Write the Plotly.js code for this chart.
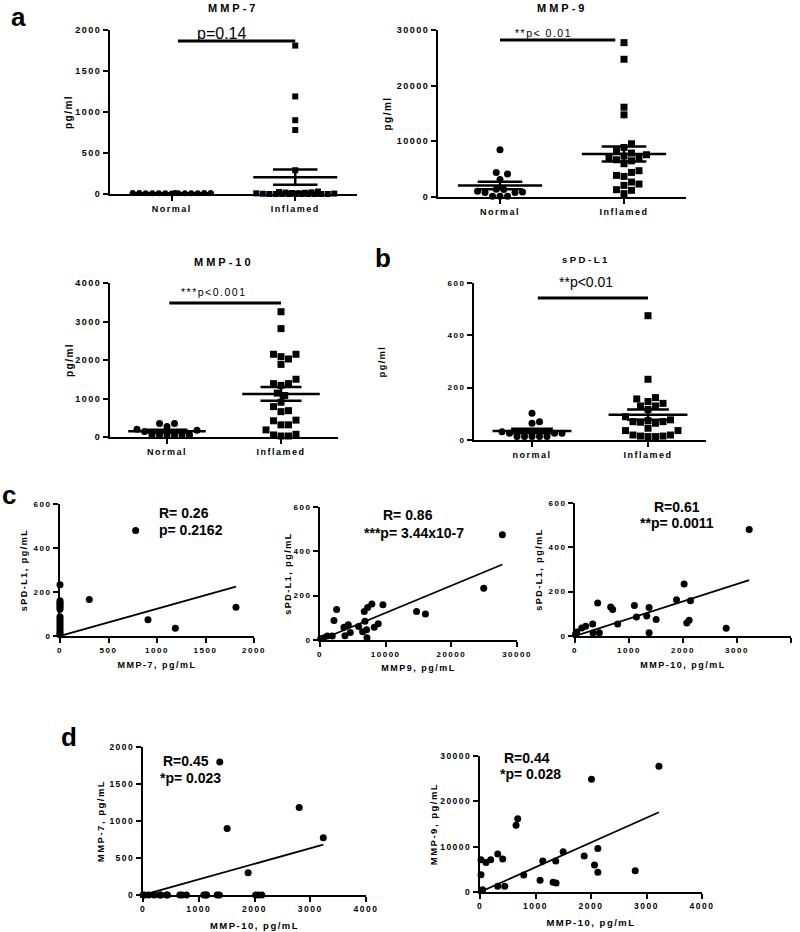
<!DOCTYPE html>
<html>
<head>
<meta charset="utf-8">
<script src="https://cdn.plot.ly/plotly-3.0.1.min.js"></script>
<style>
html,body{margin:0;padding:0;background:#fff;}
#chart{width:800px;height:932px;}
g[class$="tick"] text, text[class$="title"]{letter-spacing:1.5px;}
text[data-unformatted="MMP-7"],text[data-unformatted="MMP-9"],text[data-unformatted="MMP-10"]{letter-spacing:3px;}
text[data-unformatted="sPD-L1"]{letter-spacing:2.5px;}
text[data-unformatted="**p< 0.01"],text[data-unformatted="***p<0.001"]{letter-spacing:1.5px;}
</style>
</head>
<body>
<div id="chart"></div>
<script>
// ---------------- DATA ----------------
const groupsA = ['Normal', 'Inflamed'];
const groupsB = ['normal', 'Inflamed'];

// (a) MMP-7, pg/ml
const mmp7Normal   = [8, 10, 12, 9, 11, 10, 13, 7, 10, 12, 9, 11, 10, 10];
const mmp7Inflamed = [1810, 1190, 900, 780, 290, 30, 25, 20, 18, 15, 12, 10, 8, 5, 3, 0, 0, 0, 0, 0, 0, 0, 0, 0, 0];
// (a) MMP-9, pg/ml
const mmp9Normal   = [8480, 4420, 4120, 3150, 1390, 1330, 1030, 910, 790, 790, 120, 120, 120];
const mmp9Inflamed = [27730, 24740, 16130, 14760, 9560, 8900, 8310, 7890, 7590, 7350, 7110, 6990, 6690, 6500, 5980,
                      4720, 4420, 3880, 3700, 2690, 2330, 2090, 1310, 1200, 600];
// (a) MMP-10, pg/ml
const mmp10Normal   = [351, 351, 272, 202, 175, 140, 53, 53, 53, 53, 53, 53];
const mmp10Inflamed = [3254, 2815, 2026, 2149, 2149, 2087, 1886, 1500, 1386, 1342, 1386, 1140, 1079, 789, 658, 684,
                       903, 438, 316, 316, 421, 184, 53, 26, 26, 70];
// (b) sPD-L1, pg/ml
const spdNormal   = [102, 70, 64, 32, 26, 26, 26, 13, 13, 13, 13, 13];
const spdInflamed = [475, 232, 162, 157, 147, 140, 130, 130, 117, 89, 77, 74, 70, 70, 68, 64, 45, 36, 36, 19, 19, 15, 15, 13, 13];

// (c) correlations with sPD-L1
const c1Mmp7 = [780, 302, 907, 1189, 1814, 0, 0, 0, 0, 0, 0, 0, 0, 0, 0, 0, 0, 0, 0, 0, 0, 0];
const c1Spd  = [480, 166, 74, 35, 131, 233, 160, 152, 145, 138, 130, 122, 88, 78, 68, 58, 48, 38, 28, 18, 10, 5];

const c2Mmp9 = [27770, 24930, 14700, 16060, 9580, 7900, 7250, 6740, 6840, 8870, 8260, 5880, 6490, 7090, 7150,
                4610, 4310, 3650, 3800, 2530, 2130, 1870, 1110, 510, 100];
const c2Spd  = [475, 234, 129, 117, 159, 162, 147, 129, 85, 73, 58, 61, 37, 46, 10, 34, 69, 57, 19, 138, 88, 18, 18, 9, 6];

const c3Mmp10 = [3226, 2021, 1879, 2138, 1100, 1372, 420, 661, 698, 1137, 1329, 1502, 2113, 2070, 791, 2800,
                 328, 198, 124, 334, 451, 1372, 31, 10];
const c3Spd   = [480, 235, 164, 159, 138, 129, 149, 131, 119, 86, 90, 74, 71, 59, 54, 35, 54, 44, 36, 14, 15, 15, 18, 8];

// (d) MMP-10 vs MMP-7 and MMP-9
const d1Mmp10 = [1377, 2802, 1509, 3234, 1886, 0, 30, 100, 200, 300, 320, 420, 440, 660, 700, 780, 1090, 1130, 1140,
                 1330, 1370, 2020, 2070, 2130];
const d1Mmp7  = [1798, 1182, 899, 773, 301, 0, 0, 0, 0, 0, 0, 0, 0, 0, 0, 0, 0, 0, 0, 0, 0, 0, 0, 0];

const d2Mmp10 = [3224, 2009, 680, 650, 2123, 1498, 1877, 319, 409, 192, 108, 18, 1131, 1365, 2063, 2123, 2797, 788,
                 18, 1083, 1317, 1371, 319, 445, 48];
const d2Mmp9  = [27730, 24870, 16140, 14740, 9610, 8880, 7920, 8360, 7260, 7110, 6530, 7110, 6820, 6820, 5940, 4330,
                 4690, 3740, 3810, 2570, 2130, 1980, 1250, 1250, 510];

// ---------------- LAYOUT HELPERS ----------------
const W = 800, H = 932;
const FONT = 'Arial, "Liberation Sans", Helvetica, sans-serif';
const dom = (a, b) => [a / W, b / W];
const domY = (top, bottom) => [1 - bottom / H, 1 - top / H];

const P = {
  a7:  {l: 110, r: 357, t: 30,  b: 194, ymax: 2000},
  a9:  {l: 438, r: 686, t: 30,  b: 197, ymax: 30000},
  a10: {l: 110, r: 338, t: 283, b: 437, ymax: 4000},
  b:   {l: 474, r: 706, t: 283, b: 440, ymax: 600},
  c1:  {l: 60,  r: 254, t: 504, b: 636},
  c2:  {l: 320, r: 517, t: 507, b: 640},
  c3:  {l: 575, r: 791, t: 503, b: 636},
  d1:  {l: 143, r: 366, t: 747, b: 895},
  d2:  {l: 480, r: 702, t: 756, b: 892}
};

function meanSem(arr) {
  const n = arr.length;
  const m = arr.reduce((a, b) => a + b, 0) / n;
  const sd = Math.sqrt(arr.reduce((a, b) => a + (b - m) * (b - m), 0) / (n - 1));
  return [m, sd / Math.sqrt(n)];
}

// beeswarm offsets (x units) computed from values
function swarm(values, pyPerUnit, pxPerUnit, d, maxHalfUnits) {
  const idx = values.map((v, i) => i).sort((a, b) => values[a] - values[b]);
  const placed = [];
  const off = new Array(values.length);
  const maxPx = maxHalfUnits * pxPerUnit;
  for (const i of idx) {
    const yp = values[i] * pyPerUnit;
    let best = 0, bestScore = -1;
    outer:
    for (let k = 0; k <= 80; k++) {
      const cands = k === 0 ? [0] : [k * d / 2, -k * d / 2];
      for (const c of cands) {
        if (Math.abs(c) > maxPx) continue;
        let minD = Infinity;
        for (const p of placed) {
          const dd = Math.hypot(p.x - c, p.y - yp);
          if (dd < minD) minD = dd;
        }
        if (minD >= d) { best = c; bestScore = Infinity; break outer; }
        if (minD > bestScore) { bestScore = minD; best = c; }
      }
    }
    placed.push({x: best, y: yp});
    off[i] = best / pxPerUnit;
  }
  return off;
}

const traces = [];
function dotPanel(ax, p, normal, inflamed, msize) {
  const pyPerUnit = (p.b - p.t) / p.ymax;
  const pxPerUnit = (p.r - p.l) / 2;
  const offN = swarm(normal, pyPerUnit, pxPerUnit, msize + 0.5, 0.33);
  const offI = swarm(inflamed, pyPerUnit, pxPerUnit, msize + 0.5, 0.33);
  const xa = 'x' + ax, ya = 'y' + ax;
  traces.push({type: 'scatter', mode: 'markers', xaxis: xa, yaxis: ya, cliponaxis: false,
    x: offN.map(o => 0 + o), y: normal, marker: {symbol: 'circle', size: msize, color: '#000'}, hoverinfo: 'y'});
  traces.push({type: 'scatter', mode: 'markers', xaxis: xa, yaxis: ya, cliponaxis: false,
    x: offI.map(o => 1 + o), y: inflamed, marker: {symbol: 'square', size: msize, color: '#000'}, hoverinfo: 'y'});
  [[0, normal], [1, inflamed]].forEach(([c, arr]) => {
    const [m, s] = meanSem(arr);
    traces.push({type: 'scatter', mode: 'lines', xaxis: xa, yaxis: ya, cliponaxis: false, hoverinfo: 'skip',
      x: [c - 0.34, c + 0.34, null, c - 0.18, c + 0.18, null, c - 0.18, c + 0.18, null, c, c],
      y: [m, m, null, m + s, m + s, null, m - s, m - s, null, m - s, m + s],
      line: {color: '#000', width: 2.5}});
  });
}

function scatterPanel(ax, xs, ys) {
  const xa = 'x' + ax, ya = 'y' + ax;
  traces.push({type: 'scatter', mode: 'markers', xaxis: xa, yaxis: ya, cliponaxis: false,
    x: xs, y: ys, marker: {symbol: 'circle', size: 7, color: '#000'}});
  // linear regression through the origin
  let sxy = 0, sxx = 0;
  xs.forEach((x, i) => { sxy += x * ys[i]; sxx += x * x; });
  const slope = sxy / sxx;
  const x0 = Math.min(...xs), x1 = Math.max(...xs);
  traces.push({type: 'scatter', mode: 'lines', xaxis: xa, yaxis: ya, cliponaxis: false, hoverinfo: 'skip',
    x: [x0, x1], y: [slope * x0, slope * x1], line: {color: '#000', width: 1.8}});
}

dotPanel('', P.a7, mmp7Normal, mmp7Inflamed, 6);
dotPanel('2', P.a9, mmp9Normal, mmp9Inflamed, 7);
dotPanel('3', P.a10, mmp10Normal, mmp10Inflamed, 7);
dotPanel('4', P.b, spdNormal, spdInflamed, 7);
scatterPanel('5', c1Mmp7, c1Spd);
scatterPanel('6', c2Mmp9, c2Spd);
scatterPanel('7', c3Mmp10, c3Spd);
scatterPanel('8', d1Mmp10, d1Mmp7);
scatterPanel('9', d2Mmp10, d2Mmp9);

// ---------------- AXES ----------------
const tickFont = size => ({family: FONT, size: size, color: '#000', weight: 'bold'});
const base = {
  showline: true, linecolor: '#000', linewidth: 2, ticks: 'outside', ticklen: 5, tickwidth: 2,
  tickcolor: '#000', showgrid: false, zeroline: false, fixedrange: true, automargin: false,
  tickformat: 'd'
};
const layout = {
  width: W, height: H, margin: {l: 0, r: 0, t: 0, b: 0},
  paper_bgcolor: '#fff', plot_bgcolor: 'rgba(0,0,0,0)', showlegend: false,
  font: {family: FONT, color: '#000'},
  shapes: [], annotations: []
};
function setAxes(id, p, xopt, yopt) {
  const xk = 'xaxis' + id, yk = 'yaxis' + id;
  const xa = 'x' + id, ya = 'y' + id;
  layout[xk] = Object.assign({}, base, {domain: dom(p.l, p.r), anchor: ya}, xopt);
  layout[yk] = Object.assign({}, base, {domain: domY(p.t, p.b), anchor: xa}, yopt);
}
const ytitle = (t, s, size) => ({text: t, standoff: s, font: {family: FONT, size: size || 9, weight: 'bold', color: '#000'}});

setAxes('', P.a7,
  {range: [-0.5, 1.5], tickvals: [0, 1], ticktext: groupsA, tickfont: tickFont(9)},
  {range: [0, 2000], tickvals: [0, 500, 1000, 1500, 2000], tickfont: tickFont(9), title: ytitle('pg/ml', 1, 10)});
setAxes('2', P.a9,
  {range: [-0.5, 1.5], tickvals: [0, 1], ticktext: groupsA, tickfont: tickFont(9)},
  {range: [0, 30000], tickvals: [0, 10000, 20000, 30000], tickfont: tickFont(9), title: ytitle('pg/ml', 3, 10)});
setAxes('3', P.a10,
  {range: [-0.5, 1.5], tickvals: [0, 1], ticktext: groupsA, tickfont: tickFont(9)},
  {range: [0, 4000], tickvals: [0, 1000, 2000, 3000, 4000], tickfont: tickFont(9), title: ytitle('pg/ml', 0, 10)});
setAxes('4', P.b,
  {range: [-0.5, 1.5], tickvals: [0, 1], ticktext: groupsB, tickfont: tickFont(9)},
  {range: [0, 600], tickvals: [0, 200, 400, 600], tickfont: tickFont(8), title: ytitle('pg/ml', 60, 9)});
setAxes('5', P.c1,
  {range: [0, 2000], tickvals: [0, 500, 1000, 1500, 2000], tickfont: tickFont(8), title: ytitle('MMP-7, pg/mL', 8, 9)},
  {range: [0, 600], tickvals: [0, 200, 400, 600], tickfont: tickFont(8), title: ytitle('sPD-L1, pg/mL', 4, 9)});
setAxes('6', P.c2,
  {range: [0, 30000], tickvals: [0, 10000, 20000, 30000], tickfont: tickFont(8), title: ytitle('MMP9, pg/mL', 7, 9)},
  {range: [0, 600], tickvals: [0, 200, 400, 600], tickfont: tickFont(8), title: ytitle('sPD-L1, pg/mL', 0, 9)});
setAxes('7', P.c3,
  {range: [0, 4000], tickvals: [0, 1000, 2000, 3000, 4000], tickfont: tickFont(8), title: ytitle('MMP-10, pg/mL', 8, 9)},
  {range: [0, 600], tickvals: [0, 200, 400, 600], tickfont: tickFont(8), title: ytitle('sPD-L1, pg/mL', 4, 9)});
setAxes('8', P.d1,
  {range: [0, 4000], tickvals: [0, 1000, 2000, 3000, 4000], tickfont: tickFont(8.5), title: ytitle('MMP-10, pg/mL', 9, 9.5)},
  {range: [0, 2000], tickvals: [0, 500, 1000, 1500, 2000], tickfont: tickFont(8.5), title: ytitle('MMP-7, pg/mL', 3, 9.5)});
setAxes('9', P.d2,
  {range: [0, 4000], tickvals: [0, 1000, 2000, 3000, 4000], tickfont: tickFont(8.5), title: ytitle('MMP-10, pg/mL', 9, 9.5)},
  {range: [0, 30000], tickvals: [0, 10000, 20000, 30000], tickfont: tickFont(8.5), title: ytitle('MMP-9, pg/mL', 1, 9.5)});

// significance bars
[['x', 'y', 0.05, 1.0, 1866], ['x2', 'y2', 0.0, 0.93, 28200], ['x3', 'y3', 0.02, 1.0, 3480], ['x4', 'y4', 0.05, 1.0, 543]]
  .forEach(([xr, yr, a, b, v]) => layout.shapes.push({type: 'line', xref: xr, yref: yr, x0: a, x1: b, y0: v, y1: v,
    line: {color: '#000', width: 3}}));

// ---------------- TEXT ----------------
function ann(text, px, py, size, weight, anchor) {
  layout.annotations.push({text: text, x: px / W, y: 1 - py / H, xref: 'paper', yref: 'paper',
    xanchor: anchor || 'center', yanchor: 'middle', showarrow: false,
    font: {family: FONT, size: size, color: '#000', weight: weight || 'normal'}});
}
ann('a', 18, 17, 26, 'bold');
ann('b', 383, 258, 26, 'bold');
ann('c', 9, 495, 26, 'bold');
ann('d', 69, 737, 26, 'bold');

ann('MMP-7', 233, 8, 11, 'bold');
ann('MMP-9', 562, 8, 11, 'bold');
ann('MMP-10', 224, 262, 11, 'bold');
ann('sPD-L1', 586, 259, 9.5, 'bold');

ann('p=0.14', 221, 34, 16);
ann('**p< 0.01', 543, 33, 10.5);
ann('***p<0.001', 214, 292, 10.5);
ann('**p<0.01', 586, 282, 14);

ann('R= 0.26', 157, 513, 14, 'bold', 'left');
ann('p= 0.2162', 157, 530, 14, 'bold', 'left');
ann('R= 0.86', 408, 515, 14, 'bold');
ann('***p= 3.44x10-7', 414, 533, 14, 'bold');
ann('R=0.61', 677, 507, 14, 'bold');
ann('**p= 0.0011', 677, 523, 14, 'bold');
ann('R=0.45', 186, 761, 14, 'bold');
ann('*p= 0.023', 190, 778, 14, 'bold');
ann('R=0.44', 527, 758, 14, 'bold');
ann('*p= 0.028', 530, 774, 14, 'bold');

Plotly.newPlot('chart', traces, layout, {displayModeBar: false, staticPlot: true});
</script>
</body>
</html>
